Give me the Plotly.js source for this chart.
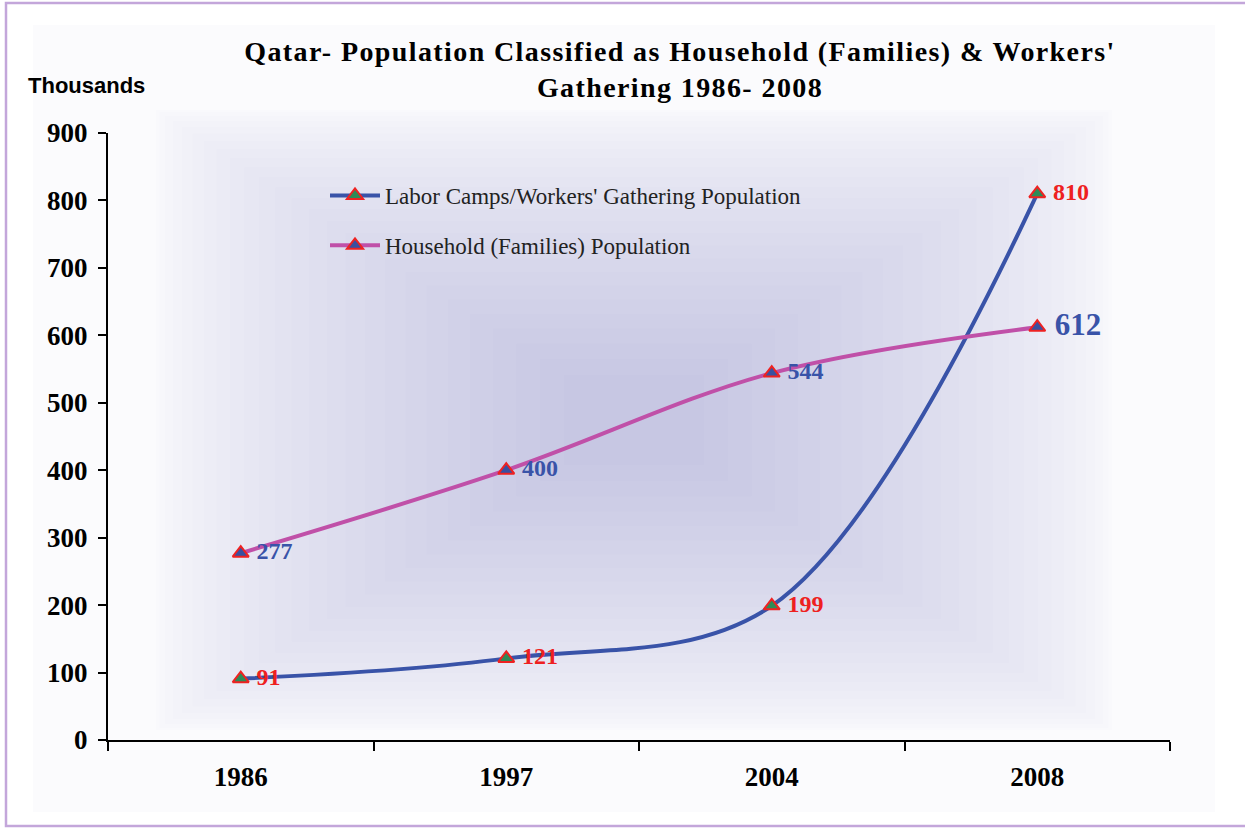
<!DOCTYPE html>
<html>
<head>
<meta charset="utf-8">
<script src="https://cdn.plot.ly/plotly-3.0.1.min.js"></script>
<style>
html,body{margin:0;padding:0;background:#fff;}
#chart{width:1245px;height:828px;}
#chart .gtitle{letter-spacing:1.4px;}
</style>
</head>
<body>
<div id="chart"></div>
<script>
// ---- data ----
const years = ['1986', '1997', '2004', '2008'];
const laborCamps = [91, 121, 199, 810];
const households = [277, 400, 544, 612];
const laborName = "Labor Camps/Workers' Gathering Population";
const householdName = "Household (Families) Population";
const yTicks = [0, 100, 200, 300, 400, 500, 600, 700, 800, 900];

// ---- layout helpers ----
const W = 1245, H = 828;
const M = {l: 108, r: 75, t: 133, b: 88};
const PW = W - M.l - M.r, PH = H - M.t - M.b;
const px = x => (x - M.l) / PW;
const py = y => (H - M.b - y) / PH;

const shapes = [];
// faint page tint
shapes.push({type:'rect', xref:'paper', yref:'paper', layer:'below',
  x0: px(33), x1: px(1215), y0: py(25), y1: py(812),
  fillcolor:'rgba(225,225,240,0.12)', line:{width:0}});
// glow: nested rectangles
const nSteps = 26;
const cx = 634, cy = 420;
const inner = {w: 70, h: 45}, outer = {w: 478, h: 310};
for (let i = 0; i < nSteps; i++) {
  const f = Math.pow(i / (nSteps - 1), 1.5);
  const hw = outer.w + (inner.w - outer.w) * f;
  const hh = outer.h + (inner.h - outer.h) * f;
  shapes.push({type:'rect', xref:'paper', yref:'paper', layer:'below',
    x0: px(cx - hw), x1: px(cx + hw), y0: py(cy + hh), y1: py(cy - hh),
    fillcolor:'rgba(110,110,175,0.016)', line:{width:0}});
}
// outer border
shapes.push({type:'rect', xref:'paper', yref:'paper', layer:'above',
  x0: px(6), x1: px(1252), y0: py(826), y1: py(3),
  fillcolor:'rgba(0,0,0,0)', line:{color:'#c3a6da', width:2.5}});

const serif = 'Liberation Serif, Times New Roman, serif';
const pad = s => '\u00a0' + s;

const traces = [
  {
    x: years, y: laborCamps, name: laborName, legendgroup: 'a',
    type: 'scatter', mode: 'lines+markers+text',
    line: {color: '#3953a8', width: 4, shape: 'spline', smoothing: 1},
    marker: {symbol: 'triangle-up', size: 14, color: '#2e8b57', line: {color: '#ee2222', width: 2}},
    text: laborCamps.map(v => pad(String(v))), textposition: 'middle right',
    textfont: {family: serif, size: 24, color: '#ee2020', weight: 'bold'},
    cliponaxis: false, hoverinfo: 'x+y'
  },
  {
    x: years, y: households, name: householdName, legendgroup: 'b',
    type: 'scatter', mode: 'lines+markers+text',
    line: {color: '#c050a8', width: 4, shape: 'spline', smoothing: 1},
    marker: {symbol: 'triangle-up', size: 14, color: '#3a50a0', line: {color: '#ee2222', width: 2}},
    text: households.map(v => pad(String(v))), textposition: 'middle right',
    textfont: {family: serif, size: [24, 24, 24, 31], color: '#3953a8', weight: 'bold'},
    cliponaxis: false, hoverinfo: 'x+y'
  }
];

const layout = {
  width: W, height: H,
  margin: M,
  paper_bgcolor: '#ffffff', plot_bgcolor: 'rgba(0,0,0,0)',
  title: {
    text: "Qatar- Population Classified as Household (Families) & Workers'<br>Gathering 1986- 2008",
    font: {family: serif, size: 28, color: '#000', weight: 'bold'},
    x: 680 / W, xref: 'container', xanchor: 'center',
    y: 1 - 61 / H, yref: 'container', yanchor: 'top'
  },
  xaxis: {
    type: 'category', range: [-0.5, 3.5], tickson: 'boundaries',
    showline: true, linecolor: '#000', linewidth: 2,
    ticks: 'outside', ticklen: 9, tickwidth: 2, tickcolor: '#000',
    showgrid: false, zeroline: false,
    tickfont: {family: serif, size: 27, color: '#000', weight: 'bold'},
    ticklabelstandoff: 12
  },
  yaxis: {
    range: [0, 900], tickvals: yTicks, ticktext: yTicks.map(String),
    showline: true, linecolor: '#000', linewidth: 2,
    ticks: 'outside', ticklen: 8, tickwidth: 2, tickcolor: '#000',
    showgrid: false, zeroline: false,
    tickfont: {family: serif, size: 27, color: '#000', weight: 'bold'},
    ticklabelstandoff: 5
  },
  legend: {
    x: px(325), y: py(174), xanchor: 'left', yanchor: 'top',
    bgcolor: 'rgba(0,0,0,0)', borderwidth: 0,
    font: {family: serif, size: 23, color: '#222'},
    traceorder: 'grouped', tracegroupgap: 17,
    itemwidth: 50
  },
  showlegend: true,
  shapes: shapes,
  annotations: [{
    text: 'Thousands', xref: 'paper', yref: 'paper',
    x: px(86), y: py(85), xanchor: 'center', yanchor: 'middle',
    showarrow: false,
    font: {family: 'Liberation Sans, Arial, sans-serif', size: 22, color: '#000', weight: 'bold'}
  }]
};

Plotly.newPlot('chart', traces, layout, {displayModeBar: false, staticPlot: true});
</script>
</body>
</html>
